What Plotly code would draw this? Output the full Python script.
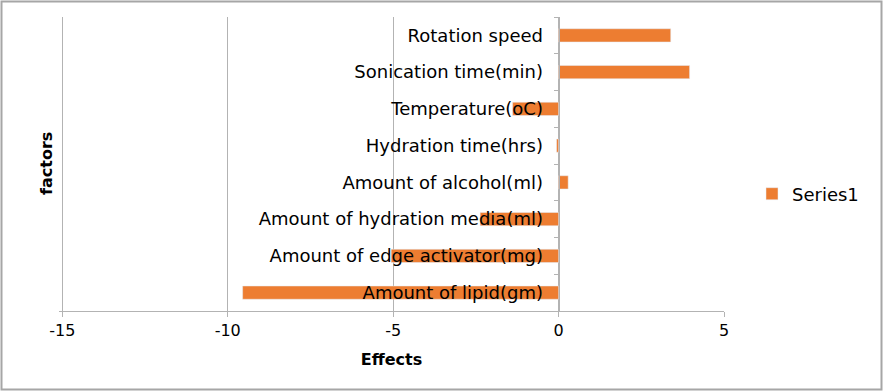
import plotly.graph_objects as go

categories = [
    "Rotation speed",
    "Sonication time(min)",
    "Temperature(oC)",
    "Hydration time(hrs)",
    "Amount of alcohol(ml)",
    "Amount of hydration media(ml)",
    "Amount of edge activator(mg)",
    "Amount of lipid(gm)",
]
effects = [3.39, 3.96, -1.39, -0.06, 0.29, -2.37, -5.06, -9.55]
x_ticks = [-15, -10, -5, 0, 5]
series_name = "Series1"

x_min, x_max = -15.1, 5.0
W, H = 883, 391
ml, mr, mt, mb = 59, 159, 17, 80
pw, ph = W - ml - mr, H - mt - mb

fig = go.Figure(go.Bar(
    x=effects, y=categories, orientation="h", name=series_name,
    marker=dict(color="#ED7D31"), width=0.36,
))

grid = "#B3B3B3"
fig.update_layout(
    width=W, height=H,
    margin=dict(l=ml, r=mr, t=mt, b=mb, pad=0, autoexpand=False),
    paper_bgcolor="white", plot_bgcolor="white",
    font=dict(family="DejaVu Sans", color="#000000"),
    showlegend=True,
    legend=dict(x=(752 - ml) / pw, y=(mt + ph - 194) / ph, xanchor="left", yanchor="middle",
                font=dict(size=18, family="DejaVu Sans"), bgcolor="rgba(0,0,0,0)"),
    xaxis=dict(
        range=[x_min, x_max], tickvals=x_ticks, ticktext=[str(v) for v in x_ticks],
        showgrid=True, gridcolor=grid, gridwidth=1, zeroline=False,
        showline=True, linecolor=grid, linewidth=1,
        ticks="outside", ticklen=5, tickcolor=grid,
        tickfont=dict(size=16, family="DejaVu Sans"),
        title=dict(text="<b>Effects</b>", font=dict(size=16, family="DejaVu Sans"), standoff=14),
    ),
    yaxis=dict(
        autorange="reversed", type="category",
        anchor="free", position=(0 - x_min) / (x_max - x_min),
        showline=True, linecolor=grid, linewidth=1,
        ticks="outside", ticklen=5, tickcolor=grid, tickson="boundaries",
        showgrid=False, zeroline=False,
        tickfont=dict(size=18, family="DejaVu Sans"),
        ticklabelstandoff=12,
        title=dict(text=""),
    ),
    annotations=[dict(
        text="<b>factors</b>", textangle=-90, xref="paper", yref="paper",
        x=(46 - ml) / pw, y=0.5, showarrow=False, xanchor="center", yanchor="middle",
        font=dict(size=16, family="DejaVu Sans"),
    )],
    shapes=[dict(
        type="rect", xref="paper", yref="paper",
        x0=(1.5 - ml) / pw, x1=(W - 1.5 - ml) / pw,
        y0=-(mb - 1.5) / ph, y1=1 + (mt - 1.5) / ph,
        line=dict(color="#A6A6A6", width=2), layer="below",
    )],
)

fig.write_html("out.html", config={"displayModeBar": False},
               post_script="document.body.style.margin='0';")
